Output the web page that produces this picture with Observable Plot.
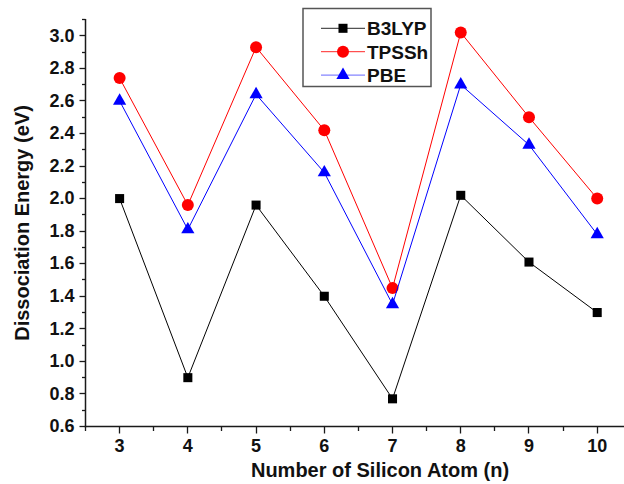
<!DOCTYPE html>
<html>
<head>
<meta charset="utf-8">
<script src="https://cdn.jsdelivr.net/npm/d3@7"></script>
<script src="https://cdn.jsdelivr.net/npm/@observablehq/plot@0.6"></script>
<style>
  html, body { margin: 0; padding: 0; background: #fff; overflow: hidden; }
  #wrap { position: relative; width: 624px; height: 484px; }
  #overlay { position: absolute; left: 0; top: 0; pointer-events: none; }
</style>
</head>
<body>
<div id="wrap"><div id="chart"></div><svg id="overlay" width="624" height="484"></svg></div>
<script>
const atoms = [3, 4, 5, 6, 7, 8, 9, 10];
const b3lyp = [2.00, 0.90, 1.96, 1.40, 0.77, 2.02, 1.61, 1.30];
const tpssh = [2.74, 1.96, 2.93, 2.42, 1.45, 3.02, 2.50, 2.00];
const pbe   = [2.60, 1.81, 2.64, 2.16, 1.35, 2.70, 2.33, 1.78];
const seriesNames = ["B3LYP", "TPSSh", "PBE"];
const seriesColors = ["#000000", "#ff0000", "#0000ff"];
const seriesSymbols = ["square", "circle", "triangle"];
const yTicks = [0.6, 0.8, 1.0, 1.2, 1.4, 1.6, 1.8, 2.0, 2.2, 2.4, 2.6, 2.8, 3.0];
const yMinor = [0.7, 0.9, 1.1, 1.3, 1.5, 1.7, 1.9, 2.1, 2.3, 2.5, 2.7, 2.9, 3.1];
const xTicks = [3, 4, 5, 6, 7, 8, 9, 10];
const xMinor = [2.5, 3.5, 4.5, 5.5, 6.5, 7.5, 8.5, 9.5];
const xLabel = "Number of Silicon Atom (n)";
const yLabel = "Dissociation Energy (eV)";

const allSeries = [b3lyp, tpssh, pbe];
const font = "'Liberation Sans', Arial, sans-serif";
const dotR = [5.1, 6, 4.9];
const axisColor = "#1a1a1a";
const xDomain = [2.5, 10.4];
const yDomain = [0.6, 3.1];

const marks = [
  Plot.axisY(yTicks, {anchor: "left", tickSize: 0, tickPadding: 11, tickFormat: d3.format(".1f"), label: null}),
  Plot.axisX(xTicks, {anchor: "bottom", tickSize: 0, tickPadding: 13, label: null}),
  Plot.text([yLabel], {frameAnchor: "left", textAnchor: "middle", lineAnchor: "middle", rotate: -90, dx: -63, fontSize: 20, fontWeight: "bold", fill: "#111"}),
  Plot.text([xLabel], {frameAnchor: "bottom", textAnchor: "middle", lineAnchor: "middle", dy: 44, dx: 25, fontSize: 20, fontWeight: "bold", fill: "#111"})
];
allSeries.forEach((vals, si) => {
  const d = vals.map((v, i) => ({n: atoms[i], e: v}));
  marks.push(Plot.line(d, {x: "n", y: "e", stroke: seriesColors[si], strokeWidth: 1}));
  marks.push(Plot.dot(d, {x: "n", y: "e", symbol: seriesSymbols[si], fill: seriesColors[si], stroke: "none", r: dotR[si]}));
});

const chart = Plot.plot({
  width: 624,
  height: 484,
  marginLeft: 85,
  marginRight: 0,
  marginTop: 19,
  marginBottom: 58,
  style: {fontFamily: font, fontSize: "18px", fontWeight: "bold", color: "#111"},
  x: {domain: xDomain},
  y: {domain: yDomain},
  marks
});
document.getElementById("chart").appendChild(chart);

// Axis lines and tick marks, positioned with Plot's own scales
function scaleFn(name) {
  const s = chart.scale(name);
  if (s && typeof s.apply === "function") return v => s.apply(v);
  return d3.scaleLinear(s.domain, s.range);
}
const xs = scaleFn("x");
const ys = scaleFn("y");
const ov = d3.select("#overlay");
const crisp = v => Math.round(v) + 0.5;
const x0 = crisp(xs(xDomain[0]));
const y0 = crisp(ys(yDomain[0]));
ov.append("line").attr("x1", x0).attr("x2", x0).attr("y1", ys(yDomain[1])).attr("y2", y0 + 0.75)
  .attr("stroke", axisColor).attr("stroke-width", 1.5);
ov.append("line").attr("x1", x0 - 0.75).attr("x2", 624).attr("y1", y0).attr("y2", y0)
  .attr("stroke", axisColor).attr("stroke-width", 1.5);
const tickG = ov.append("g").attr("stroke", axisColor).attr("stroke-width", 1.3);
yTicks.forEach(v => tickG.append("line").attr("x1", x0 - 6).attr("x2", x0).attr("y1", crisp(ys(v))).attr("y2", crisp(ys(v))));
yMinor.forEach(v => tickG.append("line").attr("x1", x0 - 3.5).attr("x2", x0).attr("y1", crisp(ys(v))).attr("y2", crisp(ys(v))));
xTicks.forEach(v => tickG.append("line").attr("x1", crisp(xs(v))).attr("x2", crisp(xs(v))).attr("y1", y0).attr("y2", y0 + 7));
xMinor.forEach(v => tickG.append("line").attr("x1", crisp(xs(v))).attr("x2", crisp(xs(v))).attr("y1", y0).attr("y2", y0 + 4.5));

// Legend
const lg = ov.append("g");
lg.append("rect").attr("x", 303).attr("y", 8.5).attr("width", 128).attr("height", 78)
  .attr("fill", "#fff").attr("stroke", "#555").attr("stroke-width", 1.5);
const symMap = {square: d3.symbolSquare, circle: d3.symbolCircle, triangle: d3.symbolTriangle};
seriesNames.forEach((name, i) => {
  const y = 28.3 + i * 23.4;
  lg.append("line").attr("x1", 321).attr("x2", 365).attr("y1", y).attr("y2", y)
    .attr("stroke", seriesColors[i]).attr("stroke-width", 1).attr("stroke-opacity", i === 2 ? 0.6 : 0.85);
  lg.append("path").attr("transform", `translate(343,${y})`)
    .attr("d", d3.symbol(symMap[seriesSymbols[i]], Math.PI * dotR[i] ** 2)())
    .attr("fill", seriesColors[i]);
  lg.append("text").attr("x", 367).attr("y", y).attr("dy", "0.36em")
    .attr("font-family", font).attr("font-size", 19).attr("font-weight", "bold").attr("fill", "#111")
    .text(name);
});
</script>
</body>
</html>
